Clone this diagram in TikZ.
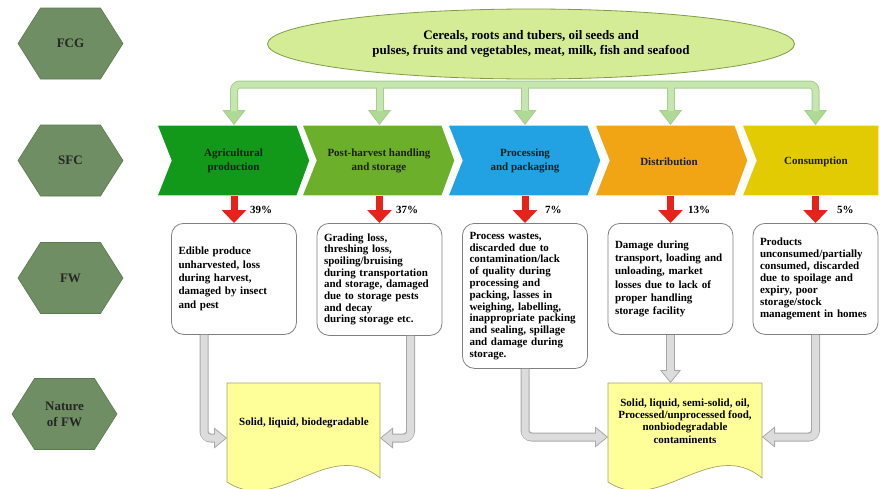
\documentclass[tikz,border=0pt]{standalone}
\usepackage{fontspec}
\setmainfont{Liberation Serif}
\usetikzlibrary{arrows.meta,shapes.geometric}
\definecolor{hexfill}{HTML}{6F8E63}
\definecolor{hexline}{HTML}{5C7A50}
\definecolor{ellfill}{HTML}{D5EC96}
\definecolor{ellline}{HTML}{7F9C45}
\definecolor{railfill}{HTML}{C6E6B0}
\definecolor{railline}{HTML}{A4CF8C}
\definecolor{railhead}{HTML}{AFDA96}
\definecolor{chA}{HTML}{13991A}
\definecolor{chB}{HTML}{6BAF2B}
\definecolor{chC}{HTML}{22A2E2}
\definecolor{chD}{HTML}{F1A414}
\definecolor{chE}{HTML}{E3CB04}
\definecolor{lossred}{HTML}{E5231B}
\definecolor{boxline}{HTML}{808080}
\definecolor{pipefill}{HTML}{DCDCDC}
\definecolor{pipeline}{HTML}{A8A8A8}
\definecolor{docfill}{HTML}{FFFF99}
\definecolor{docline}{HTML}{A3A36A}
\tikzset{
  railhd/.tip={Triangle[length=15pt,width=23pt,line width=0.8pt,fill=railhead]},
  pipehd/.tip={Triangle[length=13pt,width=21pt,line width=0.8pt,fill=pipefill]},
}
\begin{document}
\begin{tikzpicture}[x=1pt,y=-1pt,
  hexshape/.style={fill=hexfill,draw=hexline,line width=0.6pt},
  hextext/.style={font=\fontsize{13}{16}\selectfont\bfseries,text=black!85,align=center,inner sep=0pt},
  chevshape/.style={draw=white,line width=1.2pt,line join=miter},
  chevtext/.style={font=\fontsize{11}{14}\selectfont\bfseries,text=black!88,align=center,inner sep=0pt},
  fwbox/.style={draw=boxline,line width=0.8pt,fill=white,rounded corners=12pt,text width=111pt,
    inner xsep=7pt,inner ysep=0pt,align=left,anchor=north,font=\fontsize{11}{#1}\selectfont\bfseries},
  lossarrow/.style={draw=lossred,line width=7pt,-{Triangle[length=13pt,width=24pt]}},
  pct/.style={font=\fontsize{11}{13}\selectfont\bfseries,anchor=west,inner sep=0pt},
  railB/.style={draw=railline,line width=8pt,rounded corners=6pt},
  railI/.style={draw=railfill,line width=6pt,rounded corners=6pt},
  pipeB/.style={draw=pipeline,line width=9pt,rounded corners=7pt},
  pipeI/.style={draw=pipefill,line width=7pt,rounded corners=6pt},
  docshape/.style={fill=docfill,draw=docline,line width=0.7pt},
  doctext/.style={font=\fontsize{11}{12.2}\selectfont\bfseries,align=center,inner sep=0pt},
]
\useasboundingbox (0,0) rectangle (880,488);

% hexagons (row labels)
\foreach \nm/\cx/\cy/\txt in {fcg/70.5/43.5/FCG, sfc/70.5/160.5/SFC, fw/70.5/278/FW, nfw/64.5/414/{Nature\\of FW}}{
  \draw[hexshape] (\cx-52.5,\cy) -- (\cx-30,\cy-35.5) -- (\cx+30,\cy-35.5) -- (\cx+52.5,\cy)
     -- (\cx+30,\cy+35.5) -- (\cx-30,\cy+35.5) -- cycle;
  \node[hextext] (\nm) at (\cx,\cy) {\txt};
}

% food commodity groups
\node[ellipse,draw=ellline,fill=ellfill,line width=0.8pt,minimum width=527pt,minimum height=70pt,
  inner sep=0pt,align=center,font=\fontsize{13}{15}\selectfont\bfseries] (ell) at (531,44)
  {Cereals, roots and tubers, oil seeds and\\pulses, fruits and vegetables, meat, milk, fish and seafood};

% chevrons
\path[chevshape,fill=chA] (157,125) -- (297,125) -- (310,160.5) -- (297,196) -- (157,196) -- (171,160.5) -- cycle;
\path[chevshape,fill=chB] (302,125) -- (442,125) -- (455,160.5) -- (442,196) -- (302,196) -- (316,160.5) -- cycle;
\path[chevshape,fill=chC] (448,125) -- (588,125) -- (601,160.5) -- (588,196) -- (448,196) -- (462,160.5) -- cycle;
\path[chevshape,fill=chD] (595,125) -- (735,125) -- (748,160.5) -- (735,196) -- (595,196) -- (609,160.5) -- cycle;
\path[chevshape,fill=chE] (742,125) -- (879,125) -- (879,196) -- (742,196) -- (756,160.5) -- cycle;

\node[chevtext] (ag) at (233.5,161) {Agricultural\\production};
\node[chevtext] (ph) at (379,161) {Post-harvest handling\\and storage};
\node[chevtext] (pp) at (525,161) {Processing\\and packaging};
\node[chevtext] (di) at (669,162) {Distribution};
\node[chevtext] (co) at (816,162) {Consumption};

\coordinate (agT) at (234,125);   \coordinate (agB) at (234,196);
\coordinate (phT) at (379.5,125); \coordinate (phB) at (379.5,196);
\coordinate (ppT) at (525,125);   \coordinate (ppB) at (525,196);
\coordinate (diT) at (670.5,125); \coordinate (diB) at (670.5,196);
\coordinate (coT) at (815.5,125); \coordinate (coB) at (815.5,196);

% green rail from the commodity groups
\coordinate (rL) at (234,84.5);   \coordinate (rR) at (815.5,84.5);
\coordinate (r2) at (379.5,84.5); \coordinate (r3) at (525,84.5); \coordinate (r4) at (670.5,84.5);
\draw[railB,railhd-railhd] (agT) -- (rL) -- (rR) -- (coT);
\draw[railB,-railhd] (r2) -- (phT);
\draw[railB,-railhd] (r3) -- (ppT);
\draw[railB,-railhd] (r4) -- (diT);
\draw[railI,shorten <=14pt,shorten >=14pt] (agT) -- (rL) -- (rR) -- (coT);
\draw[railI,shorten >=14pt] (r2) -- (phT);
\draw[railI,shorten >=14pt] (r3) -- (ppT);
\draw[railI,shorten >=14pt] (r4) -- (diT);

% food waste boxes
\node[fwbox=13.3,minimum height=111pt] (b1) at (234,223)
  {Edible produce\\unharvested, loss\\during harvest,\\damaged by insect\\and pest};
\node[fwbox=11.7,minimum height=112pt] (b2) at (379.5,223)
  {Grading loss,\\threshing loss,\\spoiling/bruising\\during transportation\\and storage, damaged\\due to storage pests\\and decay\\during storage etc.};
\node[fwbox=11.8,minimum height=145pt] (b3) at (525,223)
  {Process wastes,\\discarded due to\\contamination/lack\\of quality during\\processing and\\packing, lasses in\\weighing, labelling,\\inappropriate packing\\and sealing, spillage\\and damage during\\storage.};
\node[fwbox=13.3,minimum height=111pt] (b4) at (670.5,223)
  {Damage during\\transport, loading and\\unloading, market\\losses due to lack of\\proper handling\\storage facility};
\node[fwbox=12,minimum height=111pt] (b5) at (815.5,223)
  {Products\\unconsumed/partially\\consumed, discarded\\due to spoilage and\\expiry, poor\\storage/stock\\management in homes};

% loss arrows
\draw[lossarrow] (agB) -- (b1.north);
\draw[lossarrow] (phB) -- (b2.north);
\draw[lossarrow] (ppB) -- (b3.north);
\draw[lossarrow] (diB) -- (b4.north);
\draw[lossarrow] (coB) -- (b5.north);
\node[pct] (p1) at (250,210) {39\%};
\node[pct] (p2) at (396,210) {37\%};
\node[pct] (p3) at (545,210) {7\%};
\node[pct] (p4) at (688,210) {13\%};
\node[pct] (p5) at (837,210) {5\%};

% nature of food waste documents
\draw[docshape] (227,383) -- (380,383) -- (380,478) .. controls (329,436) and (278,516) .. (227,482) -- cycle;
\draw[docshape] (608,383) -- (762,383) -- (762,478) .. controls (711,436) and (659,516) .. (608,482) -- cycle;
\node[doctext] (d1) at (304,423) {Solid, liquid, biodegradable};
\node[doctext] (d2) at (685,421) {Solid, liquid, semi-solid, oil,\\Processed/unprocessed food,\\nonbiodegradable\\contaminents};
\coordinate (d1W) at (227,438); \coordinate (d1E) at (380,438);
\coordinate (d2W) at (608,437); \coordinate (d2N) at (670.5,383); \coordinate (d2E) at (762,437);

% grey pipes
\draw[pipeB,-pipehd] ([xshift=-30pt]b1.south) |- (d1W);
\draw[pipeB,-pipehd] ([xshift=31pt]b2.south) |- (d1E);
\draw[pipeB,-pipehd] (b3.south) |- (d2W);
\draw[pipeB,-pipehd] (b4.south) -- (d2N);
\draw[pipeB,-pipehd] (b5.south) |- (d2E);
\draw[pipeI,shorten >=12pt] ([xshift=-30pt]b1.south) |- (d1W);
\draw[pipeI,shorten >=12pt] ([xshift=31pt]b2.south) |- (d1E);
\draw[pipeI,shorten >=12pt] (b3.south) |- (d2W);
\draw[pipeI,shorten >=12pt] (b4.south) -- (d2N);
\draw[pipeI,shorten >=12pt] (b5.south) |- (d2E);
\end{tikzpicture}
\end{document}
